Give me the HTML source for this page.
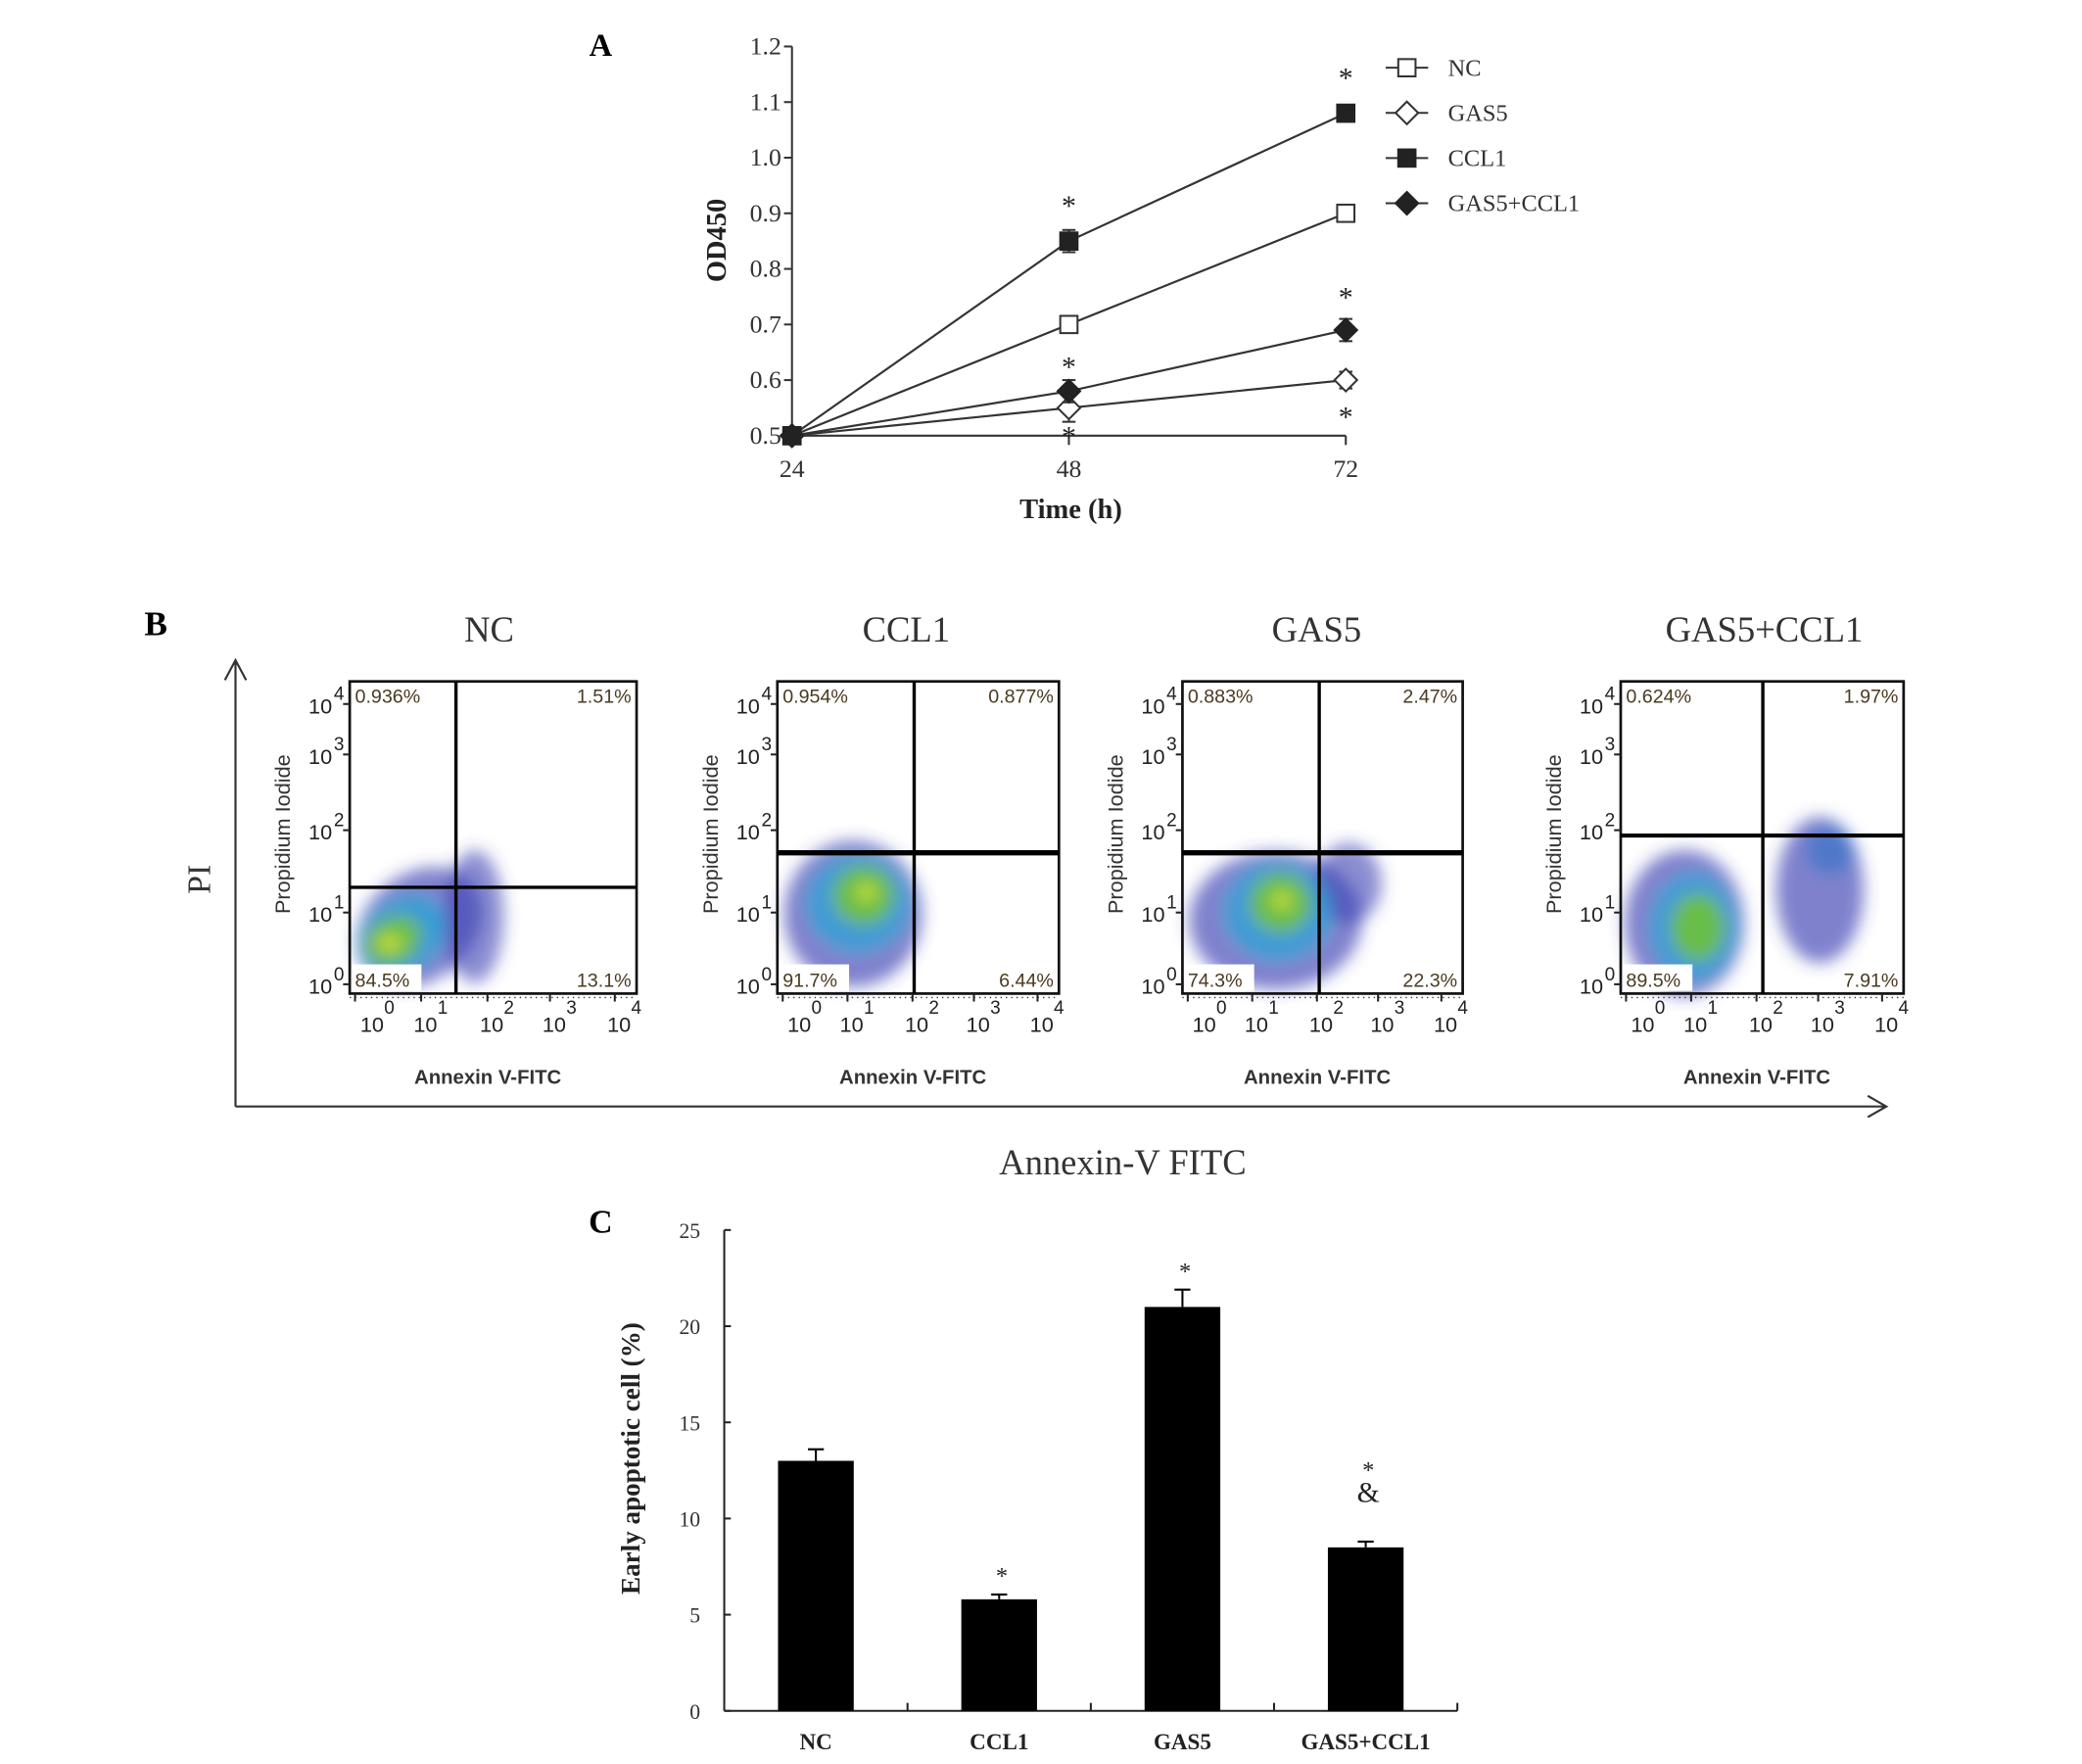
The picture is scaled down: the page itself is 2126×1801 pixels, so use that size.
<!DOCTYPE html>
<html><head><meta charset="utf-8"><style>
html,body{margin:0;padding:0;background:#fff;}
svg{display:block;}
.serif{font-family:"Liberation Serif",serif;}
.sans{font-family:"Liberation Sans",sans-serif;}
</style></head><body>
<svg id="fig" width="2126" height="1801" viewBox="0 0 1567 1328" xmlns="http://www.w3.org/2000/svg">
<defs>
<filter id="blur" x="-50%" y="-50%" width="200%" height="200%"><feGaussianBlur stdDeviation="6"/></filter>
</defs>
<g id="pA"></g>
<g id="pB"></g>
<g id="pC"></g>
</svg>
<script>
// ---------- Panel A data ----------
const aTimes = [24, 48, 72];
const aSeriesNames = ["NC", "GAS5", "CCL1", "GAS5+CCL1"];
const aNC = [0.5, 0.70, 0.90];
const aGAS5 = [0.5, 0.55, 0.60];
const aCCL1 = [0.5, 0.85, 1.08];
const aGC = [0.5, 0.58, 0.69];
const aErrNC = [0, 0.006, 0.015];
const aErrGAS5 = [0, 0.025, 0.015];
const aErrCCL1 = [0, 0.02, 0.015];
const aErrGC = [0, 0.02, 0.02];
const aYTicks = [0.5, 0.6, 0.7, 0.8, 0.9, 1.0, 1.1, 1.2];
const aYTickLabels = ["0.5", "0.6", "0.7", "0.8", "0.9", "1.0", "1.1", "1.2"];
const aXTickLabels = ["24", "48", "72"];
// ---------- Panel B data ----------
const bTitles = ["NC", "CCL1", "GAS5", "GAS5+CCL1"];
const bQ1 = ["0.936%", "0.954%", "0.883%", "0.624%"];
const bQ2 = ["1.51%", "0.877%", "2.47%", "1.97%"];
const bQ3 = ["84.5%", "91.7%", "74.3%", "89.5%"];
const bQ4 = ["13.1%", "6.44%", "22.3%", "7.91%"];
// ---------- Panel C data ----------
const cCats = ["NC", "CCL1", "GAS5", "GAS5+CCL1"];
const cVals = [13.0, 5.8, 21.0, 8.5];
const cErrs = [0.6, 0.25, 0.9, 0.3];
const cYTicks = [0, 5, 10, 15, 20, 25];
const cMarks = ["", "*", "*", "*\n&"];

const NS = "http://www.w3.org/2000/svg";
function mk(parent, tag, attrs, text) {
  const e = document.createElementNS(NS, tag);
  for (const k in attrs) e.setAttribute(k, attrs[k]);
  if (text !== undefined) e.textContent = text;
  parent.appendChild(e);
  return e;
}

// ================= PANEL A =================
(function () {
  const g = document.getElementById("pA");
  const X0 = 596, X1 = 1013, Y0 = 328, Y1 = 35;
  const xs = t => X0 + (t - 24) / (72 - 24) * (X1 - X0);
  const ys = v => Y0 - (v - 0.5) / (1.2 - 0.5) * (Y0 - Y1);
  let e;
  e = mk(g, "text", { x: 452, y: 42, "font-size": 24, "font-weight": "bold", class: "serif", "text-anchor": "middle" }, "A");
  
  
  e = mk(g, "line", { x1: X0, y1: Y0, x2: X0, y2: Y1, stroke: "#333", "stroke-width": 1.5 });
  
  
  e = mk(g, "line", { x1: X0, y1: Y0, x2: X1, y2: Y0, stroke: "#333", "stroke-width": 1.5 });
  
  
  aYTicks.forEach((v, i) => {
    const y = ys(v);
    mk(g, "line", { x1: X0 - 6, y1: y, x2: X0, y2: y, stroke: "#333", "stroke-width": 1.5 });
    e = mk(g, "text", { x: X0 - 8, y: y + 6, "font-size": 19, class: "serif", "text-anchor": "end", fill: "#333" }, aYTickLabels[i]);
    
    
  });
  aTimes.forEach((t, i) => {
    const x = xs(t);
    mk(g, "line", { x1: x, y1: Y0, x2: x, y2: Y0 + 7, stroke: "#333", "stroke-width": 1.5 });
    e = mk(g, "text", { x: x, y: Y0 + 31, "font-size": 19, class: "serif", "text-anchor": "middle", fill: "#333" }, aXTickLabels[i]);
    
    
  });
  e = mk(g, "text", { x: 806, y: 390, "font-size": 21, "font-weight": "bold", class: "serif", "text-anchor": "middle", fill: "#222" }, "Time (h)");
  
  
  e = mk(g, "text", { x: 0, y: 0, "font-size": 21, "font-weight": "bold", class: "serif", "text-anchor": "middle", fill: "#222", transform: "translate(546,181) rotate(-90)" }, "OD450");
  
  

  function marker(p, type, x, y) {
    const s = 6.5;
    if (type === "sq") return mk(p, "rect", { x: x - s, y: y - s, width: 2 * s, height: 2 * s, fill: "#fff", stroke: "#333", "stroke-width": 1.5 });
    if (type === "sqf") return mk(p, "rect", { x: x - s, y: y - s, width: 2 * s, height: 2 * s, fill: "#222", stroke: "#222", "stroke-width": 1.5 });
    const d = 8.5;
    const pts = `${x},${y - d} ${x + d},${y} ${x},${y + d} ${x - d},${y}`;
    if (type === "di") return mk(p, "polygon", { points: pts, fill: "#fff", stroke: "#333", "stroke-width": 1.5 });
    return mk(p, "polygon", { points: pts, fill: "#222", stroke: "#222", "stroke-width": 1.5 });
  }
  const series = [
    { name: "nc", vals: aNC, errs: aErrNC, m: "sq" },
    { name: "gas5", vals: aGAS5, errs: aErrGAS5, m: "di" },
    { name: "ccl1", vals: aCCL1, errs: aErrCCL1, m: "sqf" },
    { name: "gas5-ccl1", vals: aGC, errs: aErrGC, m: "dif" }
  ];
  series.forEach(s => {
    const sg = mk(g, "g", {});
    
    
    const pts = s.vals.map((v, i) => xs(aTimes[i]) + "," + ys(v)).join(" ");
    e = mk(sg, "polyline", { points: pts, fill: "none", stroke: "#333", "stroke-width": 1.6 });
    
    
    s.vals.forEach((v, i) => {
      const x = xs(aTimes[i]);
      if (s.errs[i] > 0) {
        const yt = ys(v + s.errs[i]), yb = ys(v - s.errs[i]);
        mk(sg, "line", { x1: x, y1: yt, x2: x, y2: yb, stroke: "#333", "stroke-width": 1.5 });
        mk(sg, "line", { x1: x - 5, y1: yt, x2: x + 5, y2: yt, stroke: "#333", "stroke-width": 1.5 });
        mk(sg, "line", { x1: x - 5, y1: yb, x2: x + 5, y2: yb, stroke: "#333", "stroke-width": 1.5 });
      }
      e = marker(sg, s.m, x, ys(v));
      
      
    });
  });
  const stars = [
    [48, aCCL1[1] + 0.07], [72, aCCL1[2] + 0.07], [48, aGC[1] + 0.05], [72, aGC[2] + 0.065],
    [48, aGAS5[1] - 0.045], [72, aGAS5[2] - 0.06]
  ];
  stars.forEach(st => {
    e = mk(g, "text", { x: xs(st[0]), y: ys(st[1]) + 10, "font-size": 22, class: "serif", "text-anchor": "middle", fill: "#222" }, "*");
    
    
  });
  const lm = ["sq", "di", "sqf", "dif"];
  aSeriesNames.forEach((n, i) => {
    const y = 51 + i * 34;
    const lg = mk(g, "g", {});
    
    
    mk(lg, "line", { x1: 1043, y1: y, x2: 1075, y2: y, stroke: "#333", "stroke-width": 1.5 });
    marker(lg, lm[i], 1059, y);
    mk(lg, "text", { x: 1090, y: y + 6, "font-size": 18, class: "serif", fill: "#333" }, n);
  });
})();

// ================= PANEL B =================
(function () {
  const g = document.getElementById("pB");
  let e;
  e = mk(g, "text", { x: 117, y: 478, "font-size": 26, "font-weight": "bold", class: "serif", "text-anchor": "middle" }, "B");
  
  
  e = mk(g, "path", { d: "M177,833 L177,497 M169,512 L177,497 L185,512", fill: "none", stroke: "#333", "stroke-width": 1.6 });
  
  
  e = mk(g, "path", { d: "M177,833 L1420,833 M1406,825 L1420,833 L1406,841", fill: "none", stroke: "#333", "stroke-width": 1.6 });
  
  
  e = mk(g, "text", { x: 0, y: 0, "font-size": 25, class: "serif", "text-anchor": "middle", fill: "#333", transform: "translate(158,662) rotate(-90)" }, "PI");
  
  
  e = mk(g, "text", { x: 845, y: 884, "font-size": 27, class: "serif", "text-anchor": "middle", fill: "#333" }, "Annexin-V FITC");
  
  

  const boxes = [[263, 479, 343, 668, 368, 2.5], [585, 797, 688, 642, 682, 4], [890, 1101, 993, 642, 991, 4], [1220, 1433, 1327, 629, 1328, 3]];
  const blobs = [
    [[315, 698, 52, 40, -40, "#3a3fb2", .65], [357, 690, 22, 50, 0, "#3a3fb2", .6], [303, 704, 34, 26, -35, "#22a5d8", .75], [296, 708, 22, 17, -30, "#6fc23a", .9], [293, 710, 9, 6, 0, "#d7e23a", .9]],
    [[642, 688, 52, 55, 0, "#3a3fb2", .65], [646, 680, 38, 36, 0, "#22a5d8", .7], [650, 674, 23, 22, 0, "#6fc23a", .9], [652, 672, 8, 7, 0, "#d7e23a", .8]],
    [[960, 693, 65, 52, 0, "#3a3fb2", .65], [1015, 665, 25, 30, 0, "#3a3fb2", .6], [962, 686, 40, 36, 0, "#22a5d8", .7], [964, 680, 23, 22, 0, "#6fc23a", .9], [965, 678, 8, 7, 0, "#d7e23a", .8]],
    [[1268, 695, 45, 55, 0, "#3a3fb2", .65], [1370, 670, 33, 55, 0, "#3a3fb2", .65], [1378, 640, 18, 18, 0, "#2f6fc8", .6], [1275, 698, 32, 40, 0, "#22a5d8", .7], [1278, 698, 20, 25, 0, "#6fc23a", .9]]
  ];
  const yDec = [741, 687, 625, 568, 530];
  const xFr = [0.083, 0.269, 0.5, 0.718, 0.944];
  boxes.forEach((b, k) => {
    const [x0, x1, vx, hy, tx, hw] = b;
    const y0 = 513, y1 = 748;
    const pg = mk(g, "g", {});
    
    
    e = mk(pg, "text", { x: tx, y: 483, "font-size": 27, class: "serif", "text-anchor": "middle", fill: "#333" }, bTitles[k]);
    
    
    const cg = mk(pg, "g", { filter: "url(#blur)" });
    
    
    blobs[k].forEach(bl => {
      mk(cg, "ellipse", { cx: bl[0], cy: bl[1], rx: bl[2], ry: bl[3], fill: bl[5], opacity: bl[6], transform: `rotate(${bl[4]} ${bl[0]} ${bl[1]})` });
    });
    mk(pg, "rect", { x: x0, y: y0, width: x1 - x0, height: y1 - y0, fill: "none", stroke: "#111", "stroke-width": 2 });
    e = mk(pg, "line", { x1: vx, y1: y0, x2: vx, y2: y1, stroke: "#000", "stroke-width": 2.5 });
    
    
    e = mk(pg, "line", { x1: x0, y1: hy, x2: x1, y2: hy, stroke: "#000", "stroke-width": hw });
    
    
    mk(pg, "rect", { x: x0 + 2, y: y1 - 22, width: 52, height: 20, fill: "#fff" });
    const tfs = { "font-size": 14.5, class: "sans", fill: "#4a3a20" };
    e = mk(pg, "text", Object.assign({ x: x0 + 4, y: y0 + 16 }, tfs), bQ1[k]);
    
    
    e = mk(pg, "text", Object.assign({ x: x1 - 4, y: y0 + 16, "text-anchor": "end" }, tfs), bQ2[k]);
    
    
    e = mk(pg, "text", Object.assign({ x: x0 + 4, y: y1 - 5 }, tfs), bQ3[k]);
    
    
    e = mk(pg, "text", Object.assign({ x: x1 - 4, y: y1 - 5, "text-anchor": "end" }, tfs), bQ4[k]);
    
    
    yDec.forEach((y, i) => {
      mk(pg, "line", { x1: x0 - 5, y1: y, x2: x0, y2: y, stroke: "#222", "stroke-width": 1.5 });
      const t = mk(pg, "text", { x: x0 - 31, y: y + 7, "font-size": 16, class: "sans", fill: "#222" }, "10");
      
      
      mk(pg, "text", { x: x0 - 12, y: y - 3, "font-size": 14, class: "sans", fill: "#222" }, String(i));
    });
    xFr.forEach((f, i) => {
      const x = x0 + f * (x1 - x0);
      const tkx = i === 0 ? x0 + 4 : x0 + (f - 0.02) * (x1 - x0);
      mk(pg, "line", { x1: tkx, y1: y1, x2: tkx, y2: y1 + 6, stroke: "#222", "stroke-width": 1.5 });
      const t = mk(pg, "text", { x: x - 10, y: 777, "font-size": 16, class: "sans", fill: "#222" }, "10");
      
      
      mk(pg, "text", { x: x + 8, y: 763, "font-size": 14, class: "sans", fill: "#222" }, String(i));
    });
    mk(pg, "line", { x1: x0, y1: y1 + 3, x2: x1, y2: y1 + 3, stroke: "#333", "stroke-width": 1, "stroke-dasharray": "1 3" });
    e = mk(pg, "text", { x: (x0 + x1) / 2 - 4, y: 816, "font-size": 15, "font-weight": "bold", class: "sans", "text-anchor": "middle", fill: "#333" }, "Annexin V-FITC");
    
    
    e = mk(pg, "text", { x: 0, y: 0, "font-size": 16, class: "sans", "text-anchor": "middle", fill: "#333", transform: `translate(${x0 - 45},628) rotate(-90)` }, "Propidium Iodide");
    
    
  });
})();

// ================= PANEL C =================
(function () {
  const g = document.getElementById("pC");
  const X0 = 545, X1 = 1097, Y0 = 1288, Y1 = 926;
  const ys = v => Y0 - v / 25 * (Y0 - Y1);
  const step = (X1 - X0) / cCats.length;
  const xc = i => X0 + step * (i + 0.5);
  let e;
  e = mk(g, "text", { x: 452, y: 928, "font-size": 25, "font-weight": "bold", class: "serif", "text-anchor": "middle" }, "C");
  
  
  e = mk(g, "line", { x1: X0, y1: Y0, x2: X0, y2: Y1, stroke: "#222", "stroke-width": 1.5 });
  
  
  e = mk(g, "line", { x1: X0, y1: Y0, x2: X1, y2: Y0, stroke: "#222", "stroke-width": 1.5 });
  
  
  cYTicks.forEach(v => {
    const y = ys(v);
    mk(g, "line", { x1: X0, y1: y, x2: X0 + 5, y2: y, stroke: "#222", "stroke-width": 1.5 });
    e = mk(g, "text", { x: X0 - 18, y: y + 6, "font-size": 16, class: "serif", "text-anchor": "end", fill: "#333" }, String(v));
    
    
  });
  for (let i = 1; i <= cCats.length; i++) {
    const x = X0 + step * i;
    mk(g, "line", { x1: x, y1: Y0, x2: x, y2: Y0 - 6, stroke: "#222", "stroke-width": 1.5 });
  }
  cCats.forEach((c, i) => {
    const x = xc(i), w = 57;
    e = mk(g, "rect", { x: x - w / 2, y: ys(cVals[i]), width: w, height: Y0 - ys(cVals[i]), fill: "#000" });
    
    
    const yt = ys(cVals[i] + cErrs[i]);
    mk(g, "line", { x1: x, y1: ys(cVals[i]), x2: x, y2: yt, stroke: "#000", "stroke-width": 1.5 });
    mk(g, "line", { x1: x - 6, y1: yt, x2: x + 6, y2: yt, stroke: "#000", "stroke-width": 1.5 });
    e = mk(g, "text", { x: x, y: 1317, "font-size": 17, "font-weight": "bold", class: "serif", "text-anchor": "middle", fill: "#222" }, c);
    
    
    const lines = cMarks[i] ? cMarks[i].split("\n") : [];
    lines.forEach((s, j) => {
      const isStar = s === "*";
      const y = lines.length > 1 ? (j === 0 ? yt - 58 : yt - 30) : yt - 18;
      e = mk(g, "text", { x: x + 2, y: y + (isStar ? 10 : 0), "font-size": isStar ? 18 : 22, class: "serif", "text-anchor": "middle", fill: "#222" }, s);
      
      
    });
  });
  e = mk(g, "text", { x: 0, y: 0, "font-size": 20, "font-weight": "bold", class: "serif", "text-anchor": "middle", fill: "#222", transform: "translate(481,1098) rotate(-90)" }, "Early apoptotic cell (%)");
  
  
})();
</script>
</body></html>
